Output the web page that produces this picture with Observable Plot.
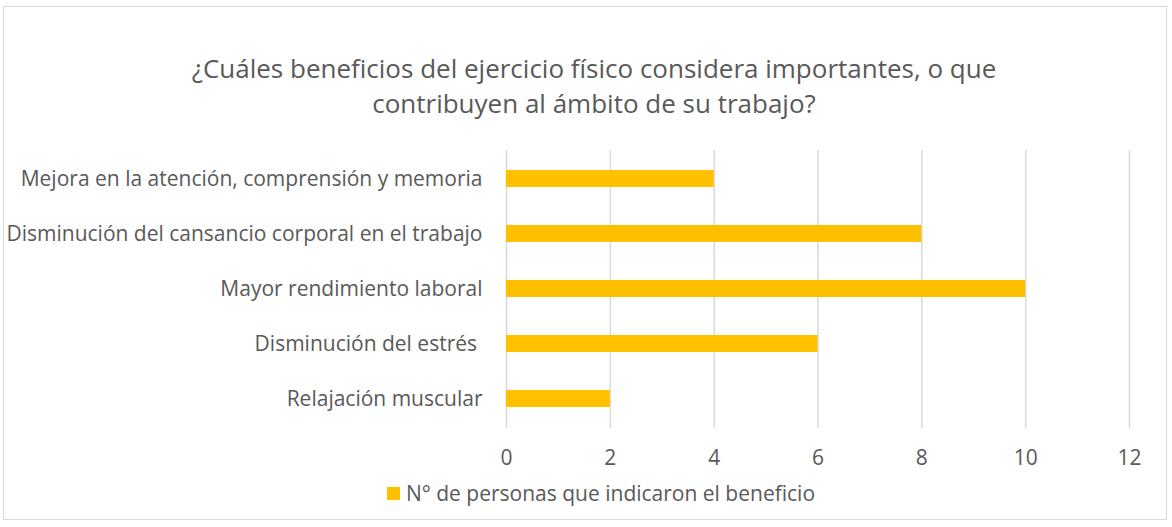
<!DOCTYPE html>
<html>
<head>
<meta charset="utf-8">
<script src="https://cdn.jsdelivr.net/npm/d3@7"></script>
<script src="https://cdn.jsdelivr.net/npm/@observablehq/plot@0.6"></script>
<style>
  html, body { margin: 0; padding: 0; background: #fff; }
  body { width: 1172px; height: 527px; position: relative; overflow: hidden; font-family: "Open Sans", sans-serif; }
  #frame { position: absolute; left: 3px; top: 6px; width: 1164px; height: 514px; border: 1px solid #d9d9d9; box-sizing: border-box; }
  #title { position: absolute; left: 0; top: 51px; width: 1188px; text-align: center; font-size: 26px; line-height: 35px; color: #595959; }
  #chart { position: absolute; left: 0; top: 140px; }
  #legend { position: absolute; left: 387px; top: 480px; font-size: 21px; line-height: 26px; color: #595959; display: flex; align-items: center; gap: 6px; }
  #legend .sw { width: 13px; height: 13px; background: #FFC000; display: inline-block; }
</style>
</head>
<body>
<div id="frame"></div>
<div id="title">¿Cuáles beneficios del ejercicio físico considera importantes, o que<br>contribuyen al ámbito de su trabajo?</div>
<div id="chart"></div>
<div id="legend"><span class="sw"></span><span>N° de personas que indicaron el beneficio</span></div>
<script>
const categories = [
  "Mejora en la atención, comprensión y memoria",
  "Disminución del cansancio corporal en el trabajo",
  "Mayor rendimiento laboral",
  "Disminución del estrés ",
  "Relajación muscular"
];
const values = [4, 8, 10, 6, 2];
const xTicks = [0, 2, 4, 6, 8, 10, 12];
const seriesName = "N° de personas que indicaron el beneficio";

const data = categories.map((c, i) => ({category: c, value: values[i]}));

const plot = Plot.plot({
  width: 1172,
  height: 340,
  marginTop: 10,
  marginBottom: 52,
  marginLeft: 506,
  marginRight: 43,
  style: {fontFamily: "'Open Sans', sans-serif", color: "#595959", background: "transparent"},
  x: {domain: [0, 12], ticks: xTicks},
  y: {domain: categories, paddingInner: 0.685, paddingOuter: 0.3425, label: null},
  marks: [
    Plot.gridX(xTicks, {stroke: "#d9d9d9", strokeOpacity: 1, strokeWidth: 1.5}),
    Plot.barX(data, {x: "value", y: "category", fill: "#FFC000"}),
    Plot.axisX(xTicks, {tickSize: 0, tickPadding: 22, fontSize: 21, label: null, fill: "#595959"}),
    Plot.axisY({tickSize: 0, tickPadding: 24, fontSize: 21, label: null, fill: "#595959"})
  ]
});
document.getElementById("chart").appendChild(plot);
</script>
</body>
</html>
